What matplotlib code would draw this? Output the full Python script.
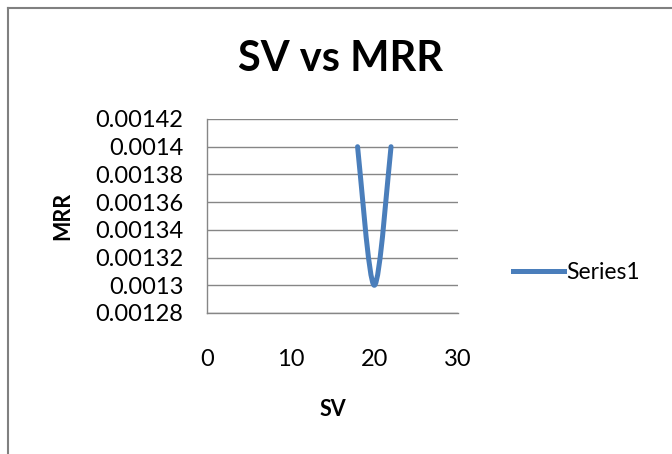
import matplotlib.pyplot as plt
from matplotlib.path import Path
from matplotlib.patches import PathPatch
from matplotlib.lines import Line2D

# data
sv = [18, 20, 22]
mrr = [0.0014, 0.0013, 0.0014]
y_ticks = [0.00128, 0.0013, 0.00132, 0.00134, 0.00136, 0.00138, 0.0014, 0.00142]
y_labels = ['0.00128', '0.0013', '0.00132', '0.00134', '0.00136', '0.00138', '0.0014', '0.00142']
x_ticks = [0, 10, 20, 30]

plt.rcParams['font.family'] = ['Lato', 'DejaVu Sans']
blue = '#4a7ebb'
grey = '#868686'

fig = plt.figure(figsize=(6.72, 4.54), dpi=100)
ax = fig.add_axes([0.308, 0.3106, 0.3735, 0.4273])

# excel-style smoothed line: cubic bezier segments through the points
pts = list(zip(sv, mrr))
verts = [pts[0]]
codes = [Path.MOVETO]
for i in range(len(pts) - 1):
    p0 = pts[i - 1] if i > 0 else pts[i]
    p1, p2 = pts[i], pts[i + 1]
    p3 = pts[i + 2] if i + 2 < len(pts) else p2
    c1 = (p1[0] + (p2[0] - p0[0]) / 6, p1[1] + (p2[1] - p0[1]) / 6)
    c2 = (p2[0] - (p3[0] - p1[0]) / 6, p2[1] - (p3[1] - p1[1]) / 6)
    verts += [c1, c2, p2]
    codes += [Path.CURVE4] * 3
ax.add_patch(PathPatch(Path(verts, codes), fill=False, edgecolor=blue,
                       lw=3.6, capstyle='round', joinstyle='round', zorder=3))

ax.set_xlim(0, 30)
ax.set_ylim(0.00128, 0.00142)
ax.set_xticks(x_ticks)
ax.set_yticks(y_ticks)
ax.set_yticklabels(y_labels)
ax.tick_params(length=0, labelsize=17, colors='#000000')
ax.tick_params(axis='y', pad=17)
ax.tick_params(axis='x', pad=26)
ax.grid(axis='y', color=grey, lw=1)
ax.set_axisbelow(True)
for s in ['top', 'right']:
    ax.spines[s].set_visible(False)
for s in ['left', 'bottom']:
    ax.spines[s].set_color(grey)
    ax.spines[s].set_linewidth(1)

ax.set_xlabel('SV', fontsize=15.5, fontweight='bold', labelpad=21)
ax.set_ylabel('MRR', fontsize=15.5, fontweight='bold', labelpad=16)
fig.text(0.507, 0.87, 'SV vs MRR', fontsize=30, fontweight='bold', ha='center', va='center')

handle = Line2D([], [], color=blue, lw=3.6)
fig.legend([handle], ['Series1'], loc='center left', bbox_to_anchor=(0.733, 0.40),
           frameon=False, fontsize=16.5, handlelength=2.2, handletextpad=0.1)

# outer chart frame (left and top edges visible)
fig.add_artist(Line2D([0.012, 0.012], [0, 0.983], color='#808080', lw=1.5))
fig.add_artist(Line2D([0.012, 1.0], [0.983, 0.983], color='#808080', lw=1.5))

fig.savefig('out.png', dpi=100)
